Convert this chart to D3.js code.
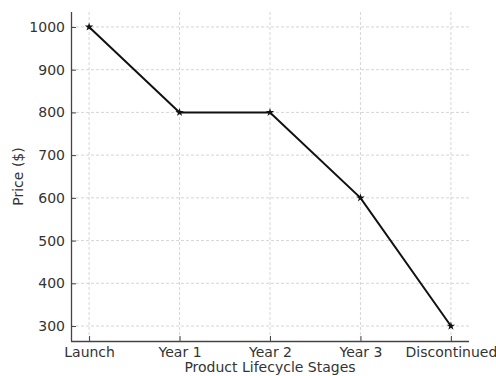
<!DOCTYPE html>
<html><head><meta charset="utf-8">
<script src="https://cdn.jsdelivr.net/npm/d3@7"></script>
<style>body{margin:0;background:#fff}svg{display:block}</style>
</head><body>
<svg id="c" width="496" height="376"></svg>
<script>
const stages = ["Launch", "Year 1", "Year 2", "Year 3", "Discontinued"];
const prices = [1000, 800, 800, 600, 300];
const yTicks = [300, 400, 500, 600, 700, 800, 900, 1000];

const svg = d3.select("#c");
const L = 71, R = 469, T = 12, B = 341;
const x = d3.scaleLinear().domain([-0.2, 4.2]).range([L, R]);
const y = d3.scaleLinear().domain([265, 1035]).range([B, T]);
const font = "DejaVu Sans, sans-serif";
const tc = "#333";
const fs = 14;

// grid
const g = svg.append("g");
g.selectAll(".gx").data(stages).enter().append("line")
  .attr("x1", (d,i)=>x(i)).attr("x2", (d,i)=>x(i)).attr("y1", T).attr("y2", B)
  .attr("stroke", "#ccc").attr("stroke-width", 0.8).attr("stroke-dasharray", "3,2");
g.selectAll(".gy").data(yTicks).enter().append("line")
  .attr("x1", L).attr("x2", R).attr("y1", d=>y(d)).attr("y2", d=>y(d))
  .attr("stroke", "#ccc").attr("stroke-width", 0.8).attr("stroke-dasharray", "3,2");

// axes
const xa = svg.append("g").attr("transform", `translate(0,${B})`)
  .call(d3.axisBottom(x).tickValues(d3.range(stages.length)).tickFormat(i=>stages[i]).tickSizeInner(-5).tickSizeOuter(0).tickPadding(6));
const ya = svg.append("g").attr("transform", `translate(${L},0)`)
  .call(d3.axisLeft(y).tickValues(yTicks).tickFormat(d3.format("d")).tickSizeInner(-5).tickSizeOuter(0).tickPadding(6));
[xa, ya].forEach(a => {
  a.select(".domain").attr("stroke", "#444").attr("stroke-width", 1.3);
  a.selectAll(".tick line").attr("stroke", "#444").attr("stroke-width", 1);
  a.selectAll(".tick text").attr("fill", tc).attr("font-family", font).attr("font-size", fs);
});
xa.select(".domain").attr("d", `M${L},0.5H${R}`);
ya.select(".domain").attr("d", `M0.5,${B}V${T}`);

// line
svg.append("path").datum(prices)
  .attr("d", d3.line().x((d,i)=>x(i)).y(d=>y(d)))
  .attr("fill", "none").attr("stroke", "#111").attr("stroke-width", 2);
svg.selectAll(".pt").data(prices).enter().append("path")
  .attr("transform", (d,i)=>`translate(${x(i)},${y(d)})`)
  .attr("d", d3.symbol().type(d3.symbolStar).size(22))
  .attr("fill", "#111");

// labels
svg.append("text").attr("x", (L+R)/2).attr("y", 372).attr("text-anchor", "middle")
  .attr("font-family", font).attr("font-size", fs).attr("fill", tc).text("Product Lifecycle Stages");
svg.append("text").attr("transform", `translate(23,${(T+B)/2}) rotate(-90)`).attr("text-anchor", "middle")
  .attr("font-family", font).attr("font-size", fs).attr("fill", tc).text("Price ($)");
</script>
</body></html>
